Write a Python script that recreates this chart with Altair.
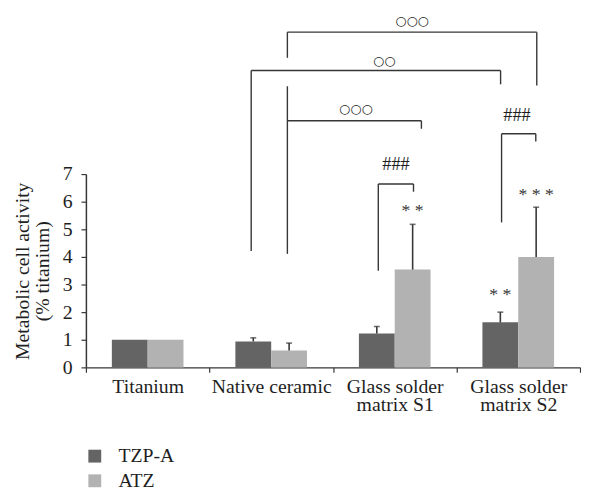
import altair as alt
import pandas as pd

# ---- data ----
categories = ["Titanium", "Native ceramic", "Glass solder|matrix S1", "Glass solder|matrix S2"]
series = ["TZP-A", "ATZ"]
tzpa_values = [1.0, 0.94, 1.23, 1.63]
atz_values = [1.0, 0.61, 3.54, 4.0]
tzpa_err_top = [None, 1.07, 1.48, 2.0]
atz_err_top = [None, 0.88, 5.18, 5.8]
colors = ["#646464", "#b2b2b2"]

# significance asterisks (category index, series, y of text)
star_text = ["* *", "* *", "* * *"]
star_cat = [2, 3, 3]
star_series = ["ATZ", "TZP-A", "ATZ"]
star_y = [5.66, 2.62, 6.23]

# brackets, in category-axis units (0..4) and y units
br_label = ["○○○", "○○", "○○○", "###", "###"]
br_x_left = [1.631, 1.338, 1.631, 3.365, 2.367]
br_x_right = [3.650, 3.357, 2.716, 3.642, 2.652]
br_y_top = [12.14, 10.75, 8.93, 8.46, 6.64]
br_left_top = [12.14, 10.75, 10.18, 8.46, 6.64]
br_left_bottom = [11.21, 4.21, 4.11, 5.25, 3.50]
br_right_bottom = [10.21, 10.25, 8.64, 8.18, 6.36]
br_label_x = [2.64, 2.415, 2.185, 3.49, 2.51]
br_label_y = [12.55, 11.1, 9.35, 9.15, 7.35]
br_kind = ["circ", "circ", "circ", "hash", "hash"]

# ---- tables ----
HALF = 0.145  # half of a bar's width in category units
off = {"TZP-A": -HALF, "ATZ": HALF}

rows = []
for i, c in enumerate(categories):
    for s, vals, errs in (("TZP-A", tzpa_values, tzpa_err_top), ("ATZ", atz_values, atz_err_top)):
        ctr = i + 0.5 + off[s]
        rows.append({"cat": c, "series": s, "value": vals[i], "base": 0.0, "err": errs[i],
                     "x0": ctr - HALF, "x1": ctr + HALF, "xc": ctr})
bars_df = pd.DataFrame(rows)
err_df = bars_df.dropna(subset=["err"])

stars_df = pd.DataFrame({
    "text": star_text,
    "x": [ci + 0.5 + off[s] for ci, s in zip(star_cat, star_series)],
    "y": star_y,
})

seg = []
for k in range(len(br_label)):
    seg.append({"x": br_x_left[k], "x2": br_x_right[k], "y": br_y_top[k], "y2": br_y_top[k]})
    seg.append({"x": br_x_left[k], "x2": br_x_left[k], "y": br_left_top[k], "y2": br_left_bottom[k]})
    seg.append({"x": br_x_right[k], "x2": br_x_right[k], "y": br_y_top[k], "y2": br_right_bottom[k]})
seg_df = pd.DataFrame(seg)
lab_df = pd.DataFrame({"text": br_label, "x": br_label_x, "y": br_label_y, "kind": br_kind})

SERIF = "Liberation Serif"
FS = 20
TXT = "#1e1e1e"
LINE = "#363636"

xq = alt.Scale(domain=[0, 4], nice=False, zero=False)
yq = alt.Scale(domain=[0, 7], nice=False, zero=False)

Y_TITLE = ["Metabolic cell activity", "(% titanium)"]


def y_axis():
    return alt.Axis(values=[0, 1, 2, 3, 4, 5, 6, 7], format="d", labelOverlap=False,
                    title=Y_TITLE, labelFont=SERIF, labelFontSize=FS, titleFont=SERIF,
                    titleFontSize=FS, titleFontWeight="normal")


def Y(field):
    return alt.Y(field, scale=yq, axis=y_axis())


def X(field):
    return alt.X(field, scale=xq, axis=None)


# invisible band layer that carries the category axis
axis_layer = alt.Chart(pd.DataFrame({"cat": categories})).mark_bar(opacity=0).encode(
    x=alt.X("cat:N", sort=categories,
            scale=alt.Scale(paddingInner=0, paddingOuter=0),
            axis=alt.Axis(title=None, tickBand="extent", labelExpr="split(datum.label, '|')",
                          labelAngle=0, labelLineHeight=19, labelPadding=4, labelOverlap=False))
)

bars = alt.Chart(bars_df).mark_bar().encode(
    x=X("x0:Q"), x2="x1:Q",
    y=Y("value:Q"), y2="base:Q",
    color=alt.Color("series:N", scale=alt.Scale(domain=series, range=colors),
                    legend=alt.Legend(title=None, orient="none", legendX=-1, legendY=276,
                                      labelFont=SERIF, labelFontSize=FS)),
)

errs = alt.Chart(err_df).mark_rule(color=LINE, strokeWidth=1.6).encode(
    x=X("xc:Q"), y=Y("value:Q"), y2="err:Q")
caps = alt.Chart(err_df).mark_tick(orient="horizontal", color=LINE, thickness=1.6, size=6).encode(
    x=X("xc:Q"), y=Y("err:Q"))

segs = alt.Chart(seg_df).mark_rule(color=LINE, strokeWidth=1.4).encode(
    x=X("x:Q"), x2="x2:Q", y=Y("y:Q"), y2="y2:Q")

labs_circ = alt.Chart(lab_df[lab_df["kind"] == "circ"]).mark_text(
    font="DejaVu Sans", fontSize=13, color=TXT, baseline="middle").encode(
    x=X("x:Q"), y=Y("y:Q"), text="text:N")
labs_hash = alt.Chart(lab_df[lab_df["kind"] == "hash"]).mark_text(
    font=SERIF, fontSize=18.5, color=TXT, baseline="middle").encode(
    x=X("x:Q"), y=Y("y:Q"), text="text:N")

stars = alt.Chart(stars_df).mark_text(font=SERIF, fontSize=18, color="#333333",
                                      baseline="middle").encode(
    x=X("x:Q"), y=Y("y:Q"), text="text:N")

inner = alt.layer(bars, errs, caps, segs, labs_circ, labs_hash, stars)

chart = alt.layer(axis_layer, inner).resolve_scale(x="independent").properties(
    width=501, height=196,
    padding={"left": 5, "top": 3, "right": 0, "bottom": 0},
).configure_view(stroke=None).configure_axis(
    grid=False, tickSize=5, tickColor=LINE, tickWidth=1.2,
    domainColor=LINE, domainWidth=1.5,
    labelFont=SERIF, labelFontSize=FS, labelColor=TXT,
    titleFont=SERIF, titleFontSize=FS, titleFontWeight="normal", titleColor=TXT,
).configure_axisY(
    labelPadding=9, titleLineHeight=20, titlePadding=10,
).configure_legend(
    symbolType="square", symbolSize=170, symbolStrokeWidth=0,
    labelFont=SERIF, labelFontSize=FS, labelColor=TXT,
    labelOffset=14, rowPadding=5, padding=0,
)

chart.save("out.html", embed_options={"renderer": "svg", "actions": False})
